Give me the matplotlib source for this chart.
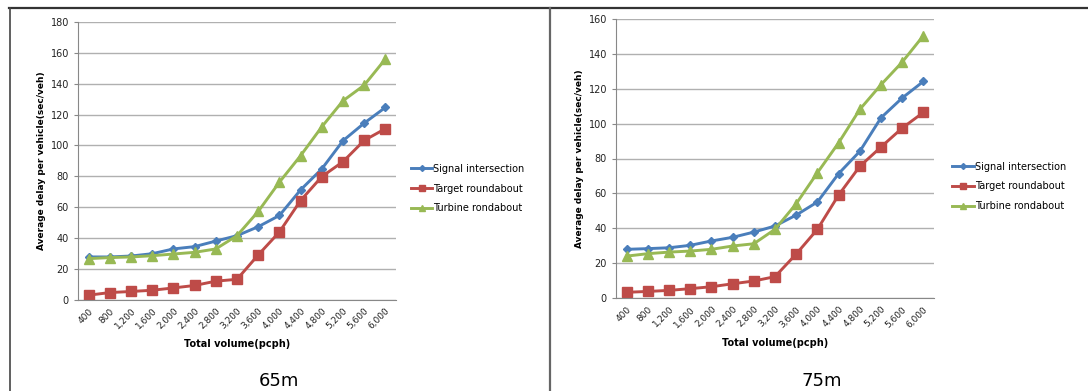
import matplotlib
matplotlib.use("Agg")
import matplotlib.pyplot as plt
from matplotlib.lines import Line2D

volumes = ["400", "800", "1,200", "1,600", "2,000", "2,400", "2,800", "3,200",
           "3,600", "4,000", "4,400", "4,800", "5,200", "5,600", "6,000"]

# 65m
signal_65 = [27.6, 27.6, 28.2, 29.7, 32.8, 34.3, 37.9, 41.4, 47.2, 54.5, 71.1, 84.7, 103.0, 114.4, 124.6]
target_65 = [2.8, 4.5, 5.2, 6.0, 7.5, 9.1, 11.9, 13.1, 28.9, 43.8, 64.2, 79.7, 89.4, 103.2, 110.8]
turbine_65 = [26.5, 27.2, 27.6, 28.4, 29.5, 30.6, 32.8, 41.4, 57.1, 76.1, 93.3, 112.0, 128.9, 139.0, 156.0]

# 75m
signal_75 = [27.8, 28.2, 28.7, 30.1, 32.6, 34.7, 37.7, 41.2, 47.5, 55.0, 71.3, 84.1, 103.4, 114.8, 124.3]
target_75 = [3.1, 3.6, 4.2, 5.2, 6.3, 8.0, 9.6, 12.1, 25.1, 39.3, 59.0, 75.5, 86.6, 97.5, 106.5]
turbine_75 = [23.9, 25.3, 26.2, 26.8, 27.8, 29.7, 31.0, 39.3, 54.0, 71.8, 89.0, 108.2, 122.4, 135.4, 150.6]

names = ["Signal intersection", "Target roundabout", "Turbine rondabout"]
colors = ["#4a7ebb", "#be4b48", "#98b954"]
markers = ["D", "s", "^"]
msizes = [4, 6.5, 6.5]

fig = plt.figure(figsize=(10.88, 3.91), dpi=100)

# panel borders
fig.add_artist(Line2D([9/1088, 1.0], [1-7.5/391]*2, color="#333333", lw=1.6))
fig.add_artist(Line2D([9.5/1088]*2, [0, 1-7.5/391], color="#444444", lw=1.2))
fig.add_artist(Line2D([549.5/1088]*2, [0, 1-7.5/391], color="#666666", lw=1.6))


def draw(rect, series, ymax, caption, cap_x, legend_x, legend_y, ylab_x):
    ax = fig.add_axes(rect)
    x = range(len(volumes))
    for s, c, m, ms, n in zip(series, colors, markers, msizes, names):
        ax.plot(x, s, color=c, marker=m, markersize=ms, lw=2.1, label=n)
    ax.set_xlim(-0.5, len(volumes) - 0.5)
    ax.set_ylim(0, ymax)
    ax.set_yticks(range(0, ymax + 1, 20))
    ax.set_xticks(list(x))
    ax.set_xticklabels(volumes, rotation=45, ha="right", rotation_mode="anchor")
    ax.tick_params(axis="x", length=0, labelsize=6.5, colors="#222222", pad=5)
    ax.tick_params(axis="y", length=3, color="#888888", labelsize=7, colors="#222222")
    ax.grid(axis="y", color="#b0b0b0", lw=1)
    ax.set_axisbelow(True)
    for sp in ["top", "right"]:
        ax.spines[sp].set_visible(False)
    ax.spines["left"].set_color("#888888")
    ax.spines["bottom"].set_color("#888888")
    ax.set_xlabel("Total volume(pcph)", fontsize=7, fontweight="bold", labelpad=6)
    ax.set_ylabel("Average delay per vehicle(sec/veh)", fontsize=6.5, fontweight="bold")
    ax.yaxis.set_label_coords(ylab_x, 0.5)
    ax.legend(loc="center left", bbox_to_anchor=(legend_x, legend_y), frameon=False,
              fontsize=7, handlelength=2.2, handletextpad=0.1, labelspacing=1.0,
              markerscale=0.75)
    fig.text(cap_x, 1 - 381/391, caption, ha="center", va="center", fontsize=13)


draw([78/1088, 1-299.5/391, 318/1088, 277.5/391],
     [signal_65, target_65, turbine_65], 180, "65m", 279/1088, 1.02, 0.4, -0.10)
draw([616/1088, 1-297.7/391, 318/1088, 278.4/391],
     [signal_75, target_75, turbine_75], 160, "75m", 822/1088, 1.03, 0.4, -0.10)

fig.savefig("out.png", dpi=100)
